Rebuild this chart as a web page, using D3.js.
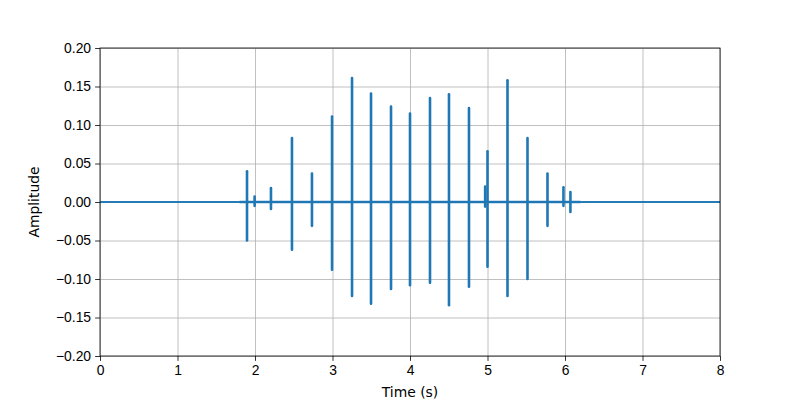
<!DOCTYPE html>
<html>
<head>
<meta charset="utf-8">
<script src="https://cdn.jsdelivr.net/npm/d3@7"></script>
<style>
  body { margin: 0; background: #fff; }
  svg { font-family: "DejaVu Sans", sans-serif; }
  .grid line { stroke: #b0b0b0; stroke-width: 0.8; }
  .grid path { display: none; }
  .axis text { font-size: 13.9px; fill: #000; }
  .axis line, .axis path { stroke: #000; stroke-width: 0.8; }
</style>
</head>
<body>
<div id="chart"></div>
<script>
// spike times (s) and their peak / trough amplitudes
var spikeTimes = [1.897, 1.995, 2.206, 2.477, 2.735, 2.994, 3.252, 3.497, 3.755, 4.0, 4.258, 4.503, 4.761, 4.97, 5.0, 5.258, 5.516, 5.774, 5.98, 6.07];
var spikeMax   = [0.040, 0.007, 0.018, 0.083, 0.037, 0.111, 0.161, 0.141, 0.124, 0.115, 0.135, 0.140, 0.122, 0.020, 0.066, 0.158, 0.083, 0.037, 0.019, 0.013];
var spikeMin   = [-0.050, -0.005, -0.009, -0.062, -0.031, -0.088, -0.122, -0.132, -0.113, -0.108, -0.105, -0.134, -0.110, -0.006, -0.084, -0.122, -0.100, -0.031, -0.005, -0.013];

// baseline noise level by stretch of time
var noiseStart = [0, 1.8, 6.2];
var noiseEnd   = [1.8, 6.2, 8];
var noiseAmp   = [0.0011, 0.0016, 0.0011];

var xTicks = [0, 1, 2, 3, 4, 5, 6, 7, 8];
var yTicks = [-0.20, -0.15, -0.10, -0.05, 0.00, 0.05, 0.10, 0.15, 0.20];

var svgWidth = 800, svgHeight = 400;
var margin = { top: 48, right: 80, bottom: 44, left: 100 };
var chart_width = svgWidth - margin.left - margin.right;
var chart_height = svgHeight - margin.top - margin.bottom;

var svg = d3.select("#chart").append("svg")
    .attr("width", svgWidth)
    .attr("height", svgHeight);

var chartGroup = svg.append("g")
    .attr("transform", `translate(${margin.left}, ${margin.top})`);

var xScale = d3.scaleLinear().domain([0, 8]).range([0, chart_width]);
var yScale = d3.scaleLinear().domain([-0.2, 0.2]).range([chart_height, 0]);

// grid
chartGroup.append("g").attr("class", "grid")
    .attr("transform", `translate(0, ${chart_height})`)
    .call(d3.axisBottom(xScale).tickValues(xTicks).tickSize(-chart_height).tickFormat(""));
chartGroup.append("g").attr("class", "grid")
    .call(d3.axisLeft(yScale).tickValues(yTicks).tickSize(-chart_width).tickFormat(""));

chartGroup.append("clipPath").attr("id", "clip")
    .append("rect").attr("width", chart_width).attr("height", chart_height);

var plot = chartGroup.append("g").attr("clip-path", "url(#clip)");

// baseline noise band
var bands = noiseStart.map((s, i) => ({ s: s, e: noiseEnd[i], a: noiseAmp[i] }));
plot.selectAll("rect.noise").data(bands).enter().append("rect")
    .attr("class", "noise")
    .attr("x", d => xScale(d.s))
    .attr("width", d => xScale(d.e) - xScale(d.s))
    .attr("y", d => yScale(d.a))
    .attr("height", d => yScale(-d.a) - yScale(d.a))
    .attr("fill", "#1f77b4");

// baseline
var line = d3.line().x(d => xScale(d[0])).y(d => yScale(d[1]));
plot.append("path")
    .attr("d", line([[0, 0], [8, 0]]))
    .attr("stroke", "#1f77b4").attr("stroke-width", 1.5).attr("fill", "none");

// spikes
var spikes = spikeTimes.map((t, i) => ({ t: t, hi: spikeMax[i], lo: spikeMin[i] }));
plot.selectAll("line.spike").data(spikes).enter().append("line")
    .attr("class", "spike")
    .attr("x1", d => xScale(d.t)).attr("x2", d => xScale(d.t))
    .attr("y1", d => yScale(d.hi)).attr("y2", d => yScale(d.lo))
    .attr("stroke", "#1f77b4").attr("stroke-width", 2.6)
    .attr("stroke-linecap", "round");

// frame
chartGroup.append("rect")
    .attr("width", chart_width).attr("height", chart_height)
    .attr("fill", "none").attr("stroke", "#000").attr("stroke-width", 0.8);

// axes
var fmtY = v => d3.format(".2f")(v).replace("-", "\u2212");
chartGroup.append("g").attr("class", "axis")
    .attr("transform", `translate(0, ${chart_height})`)
    .call(d3.axisBottom(xScale).tickValues(xTicks).tickSize(4.9).tickPadding(4).tickFormat(d3.format("d")))
    .call(g => g.select(".domain").remove());
chartGroup.append("g").attr("class", "axis")
    .call(d3.axisLeft(yScale).tickValues(yTicks).tickSize(4.9).tickPadding(4).tickFormat(fmtY))
    .call(g => g.select(".domain").remove());

// labels
chartGroup.append("text")
    .attr("x", chart_width / 2).attr("y", chart_height + 41)
    .attr("text-anchor", "middle").attr("font-size", "13.9px")
    .text("Time (s)");
chartGroup.append("text")
    .attr("transform", `translate(${-61}, ${chart_height / 2}) rotate(-90)`)
    .attr("text-anchor", "middle").attr("font-size", "13.9px")
    .text("Amplitude");
</script>
</body>
</html>
